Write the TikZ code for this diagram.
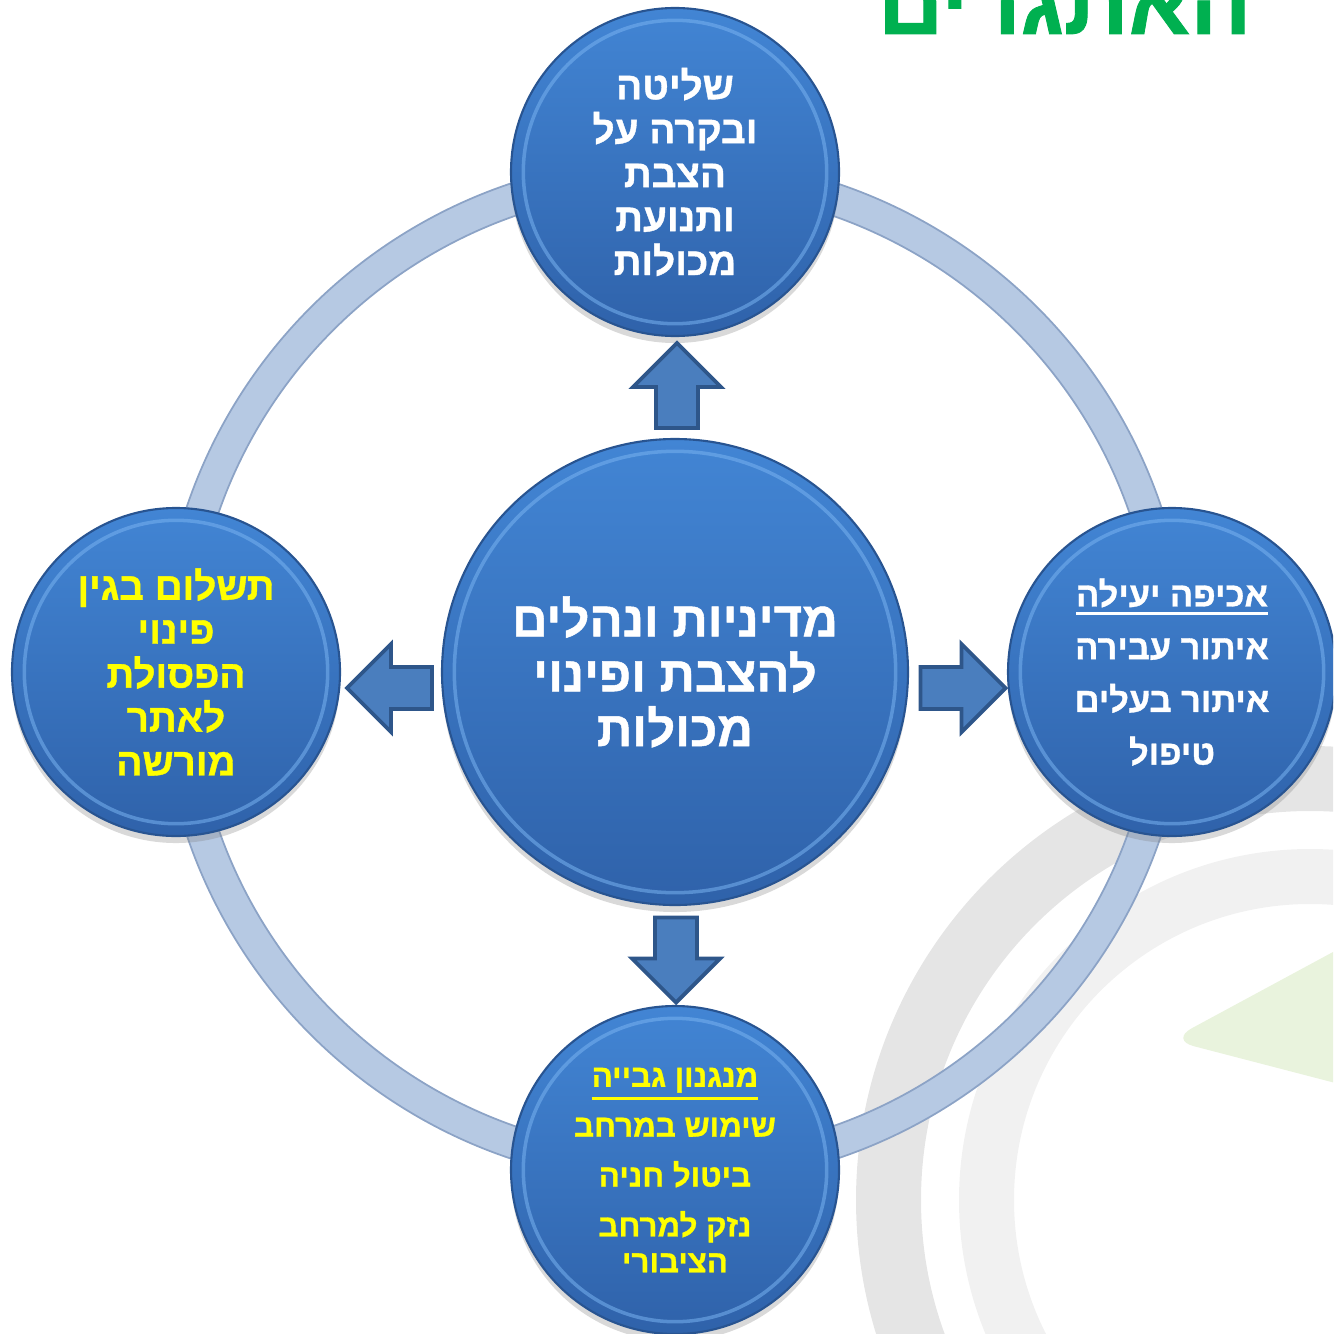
\documentclass[tikz,border=0pt]{standalone}
\usepackage{fontspec}
\newfontfamily\hebfont[Script=Hebrew, BoldFeatures={FakeBold=1}]{Liberation Sans}
\TeXXeTstate=1
\usetikzlibrary{calc,shadows}
\newcommand{\rtl}[1]{\beginR #1\endR}
\newcommand{\rtlul}[1]{\vtop{\hbox{\rtl{#1}}\kern1.3pt\hrule height 0.9pt}}
\definecolor{bubtop}{RGB}{66,133,212}
\definecolor{bubbot}{RGB}{47,98,170}
\definecolor{rimblue}{RGB}{40,84,145}
\definecolor{hilite}{RGB}{120,178,240}
\definecolor{arrowfill}{RGB}{74,126,190}
\definecolor{arrowline}{RGB}{46,86,138}
\definecolor{ringblue}{RGB}{182,201,227}
\definecolor{ringedge}{RGB}{140,163,198}
\definecolor{bggray}{RGB}{229,229,229}
\definecolor{bglight}{RGB}{241,241,241}
\definecolor{bggreen}{RGB}{233,243,221}
\definecolor{titlegreen}{RGB}{0,176,80}
\definecolor{hebyellow}{RGB}{255,255,0}
\begin{document}
\begin{tikzpicture}[
  bubble/.style={circle, draw=rimblue, line width=0.6pt, top color=bubtop, bottom color=bubbot,
    inner sep=0pt, minimum size=3.28cm, align=center, text=white,
    font=\hebfont\bfseries\fontsize{11}{12.5}\selectfont,
    drop shadow={opacity=0.3, shadow xshift=0pt, shadow yshift=-2pt},
    path picture={\draw[hilite, line width=1pt, opacity=0.55]
      let \p1=($(path picture bounding box.north)-(path picture bounding box.center)$) in
      (path picture bounding box.center) circle ({\y1-3.5pt});}},
  blockarrow/.pic={\draw[arrowline, fill=arrowfill, line width=1.1pt, line join=miter]
    (-0.425,-0.21) -- (-0.015,-0.21) -- (-0.015,-0.44) -- (0.425,0) -- (-0.015,0.44)
    -- (-0.015,0.21) -- (-0.425,0.21) -- cycle;}
]
\useasboundingbox (0,0) rectangle (13.33,-13.34);
\clip (0,0) rectangle (13.33,-13.34);
% background of the slide
\fill[bggray, even odd rule] (13.10,-12.00) circle (4.54) circle (3.89);
\fill[bglight, even odd rule] (13.10,-12.00) circle (3.51) circle (2.96);
\fill[bggreen, rounded corners=7pt] (11.70,-10.40) -- (14.2,-9.05) -- (14.2,-11.05) -- cycle;
\node[anchor=base east, inner sep=0pt, text=titlegreen,
  font=\hebfont\bfseries\fontsize{25.7}{28}\selectfont] (title) at (12.52,-0.34) {\rtl{האתגרים}};
% ring
\coordinate (ringc) at (6.74,-6.71);
\draw[ringblue, line width=0.32cm] (ringc) circle (4.98);
\draw[ringedge, line width=0.5pt] (ringc) circle (5.14);
\draw[ringedge, line width=0.5pt] (ringc) circle (4.82);
% circles
\node[bubble, minimum size=4.66cm, font=\hebfont\bfseries\fontsize{14}{15.6}\selectfont] (ctr) at (6.75,-6.72)
  {\rtl{מדיניות ונהלים}\\\rtl{להצבת ופינוי}\\\rtl{מכולות}};
\node[bubble] (top) at (6.75,-1.72)
  {\rtl{שליטה}\\\rtl{ובקרה על}\\\rtl{הצבת}\\\rtl{ותנועת}\\\rtl{מכולות}};
\node[bubble, text=hebyellow] (lft) at (1.76,-6.72)
  {\rtl{תשלום בגין}\\\rtl{פינוי}\\\rtl{הפסולת}\\\rtl{לאתר}\\\rtl{מורשה}};
\node[bubble, font=\hebfont\bfseries\fontsize{9.8}{15}\selectfont] (rgt) at (11.72,-6.72)
  {\rtlul{אכיפה יעילה}\\\rtl{איתור עבירה}\\\rtl{איתור בעלים}\\\rtl{טיפול}};
\node[bubble, text=hebyellow, font=\hebfont\bfseries\fontsize{8.9}{10.2}\selectfont] (bot) at (6.75,-11.70)
  {\rtlul{מנגנון גבייה}\\[4pt]\rtl{שימוש במרחב}\\[4pt]\rtl{ביטול חניה}\\[4pt]\rtl{נזק למרחב}\\\rtl{הציבורי}};
% arrows
\pic[rotate=90] at (6.77,-3.855) {blockarrow};
\pic[rotate=-90] at (6.76,-9.60) {blockarrow};
\pic[rotate=180] at (3.895,-6.88) {blockarrow};
\pic at (9.63,-6.88) {blockarrow};
\end{tikzpicture}
\end{document}
